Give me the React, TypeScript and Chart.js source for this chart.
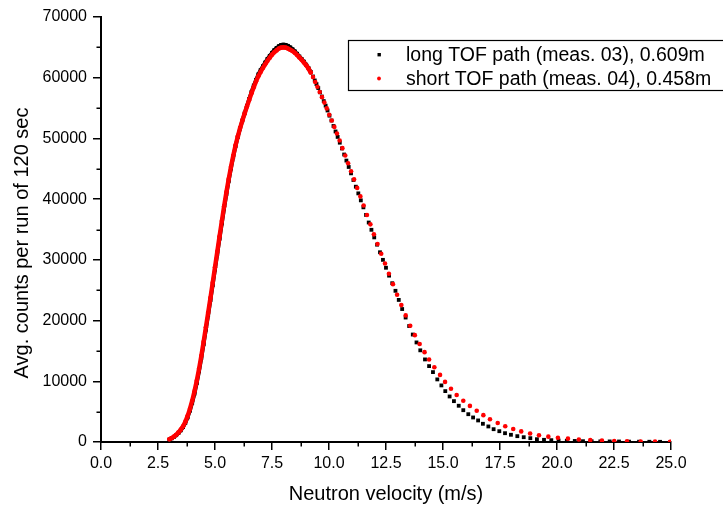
import React, { useEffect, useRef } from 'react';
import { Chart, registerables } from 'chart.js';

Chart.register(...registerables);

const LONG_LABEL = 'long TOF path (meas. 03), 0.609m';
const SHORT_LABEL = 'short TOF path (meas. 04), 0.458m';
const X_TITLE = 'Neutron velocity (m/s)';
const Y_TITLE = 'Avg. counts per run of 120 sec';

// long TOF path (black squares)
const longVelocity = [
  3.0, 3.1, 3.2, 3.3, 3.4, 3.5, 3.6, 3.7, 3.8, 3.9,
  4.0, 4.1, 4.2, 4.3, 4.4, 4.5, 4.6, 4.7, 4.8, 4.9,
  5.0, 5.1, 5.2, 5.3, 5.4, 5.5, 5.6, 5.7, 5.8, 5.9,
  6.0, 6.1, 6.2, 6.3, 6.4, 6.5, 6.6, 6.7, 6.8, 6.9,
  7.0, 7.1, 7.2, 7.3, 7.4, 7.5, 7.6, 7.7, 7.8, 7.9,
  8.0, 8.1, 8.2, 8.3, 8.4, 8.5, 8.6, 8.7, 8.8, 8.9,
  9.0, 9.1, 9.2,
  9.3, 9.375, 9.451, 9.529, 9.607, 9.687, 9.769, 9.852, 9.936, 10.021,
  10.108, 10.197, 10.287, 10.379, 10.473, 10.568, 10.665, 10.763, 10.864, 10.966,
  11.071, 11.177, 11.286, 11.396, 11.509, 11.624, 11.742, 11.861, 11.984, 12.108,
  12.236, 12.366, 12.499, 12.635, 12.774, 12.915, 13.06, 13.209, 13.361, 13.516,
  13.675, 13.838, 14.004,
  14.21, 14.39, 14.56, 14.75, 14.93, 15.1, 15.29, 15.48, 15.69, 15.89,
  16.11, 16.32, 16.54, 16.75, 16.99, 17.22, 17.47, 17.72, 17.98, 18.26,
  18.54, 18.83, 19.12, 19.43, 19.75, 20.07, 20.43, 20.78, 21.14, 21.52,
  21.9, 22.31, 22.72, 23.16, 23.6, 24.05, 24.52, 24.98,
];
const longCounts = [
  400, 600, 840, 1120, 1480, 1920, 2450, 3150, 4050, 5150,
  6450, 7950, 9700, 11650, 13800, 16100, 18500, 20900, 23350, 25850,
  28400, 30950, 33500, 36000, 38450, 40800, 43000, 45050, 46950, 48700,
  50250, 51650, 52950, 54150, 55350, 56500, 57650, 58700, 59650, 60550,
  61250, 61900, 62500, 63100, 63600, 64100, 64550, 64900, 65200, 65400,
  65450, 65400, 65250, 65000, 64700, 64350, 63950, 63500, 63100, 62650,
  62150, 61600, 60950,
  60200, 59550, 58950, 58300, 57600, 56900, 56150, 55400, 54600, 53750,
  52950, 52050, 51150, 50250, 49300, 48350, 47350, 46350, 45300, 44250,
  43150, 42050, 40950, 39800, 38650, 37400, 36150, 34950, 33700, 32500,
  31250, 30000, 28700, 27400, 26150, 24900, 23400, 21900, 20500, 19100,
  17700, 16400, 15100,
  13600, 12500, 11510, 10310, 9320, 8380, 7500, 6730, 5970, 5240,
  4580, 4040, 3550, 3000, 2560, 2110, 1780, 1450, 1190, 960,
  790, 630, 460, 360, 300, 250, 200, 170, 130, 120,
  100, 90, 80, 60, 50, 40, 30, 20,
];

// short TOF path (red dots)
const shortVelocity = [
  3.0, 3.1, 3.2, 3.3, 3.4, 3.5, 3.6, 3.7, 3.8, 3.9,
  4.0, 4.1, 4.2, 4.3, 4.4, 4.5, 4.6, 4.7, 4.8, 4.9,
  5.0, 5.1, 5.2, 5.3, 5.4, 5.5, 5.6, 5.7, 5.8, 5.9,
  6.0, 6.1, 6.2, 6.3, 6.4, 6.5, 6.6, 6.7, 6.8, 6.9,
  7.0, 7.1, 7.2, 7.3, 7.4, 7.5, 7.6, 7.7, 7.8, 7.9,
  8.0, 8.1, 8.2, 8.3, 8.4, 8.5, 8.6, 8.7, 8.8, 8.9,
  9.0, 9.1, 9.2,
  9.3, 9.395, 9.492, 9.592, 9.693, 9.797, 9.902, 10.01, 10.121, 10.234,
  10.349, 10.467, 10.588, 10.712, 10.838, 10.968, 11.1, 11.236, 11.376, 11.518,
  11.665, 11.815, 11.969, 12.128, 12.29, 12.457, 12.628, 12.805, 12.986, 13.172,
  13.364, 13.562, 13.765, 13.975, 14.191,
  14.39, 14.62, 14.87, 15.09, 15.35, 15.6, 15.89, 16.18, 16.48, 16.77,
  17.06, 17.4, 17.73, 18.08, 18.43, 18.82, 19.21, 19.62, 20.04, 20.48,
  20.96, 21.46, 21.97, 22.51, 23.07, 23.67, 24.3, 24.96,
];
const shortCounts = [
  450, 650, 900, 1200, 1580, 2050, 2600, 3350, 4300, 5450,
  6800, 8350, 10100, 12050, 14200, 16500, 18900, 21300, 23750, 26250,
  28800, 31350, 33900, 36400, 38850, 41150, 43300, 45300, 47150, 48850,
  50350, 51700, 52950, 54100, 55250, 56350, 57450, 58450, 59400, 60250,
  60950, 61600, 62200, 62800, 63300, 63800, 64200, 64500, 64800, 64950,
  65000, 64950, 64800, 64600, 64400, 64100, 63750, 63350, 62950, 62500,
  62050, 61500, 60850,
  60100, 59300, 58500, 57650, 56800, 55900, 54950, 53900, 52950, 51900,
  50800, 49650, 48400, 47200, 45900, 44600, 43250, 41850, 40450, 38950,
  37400, 35850, 34200, 32600, 31000, 29400, 27700, 26000, 24250, 22550,
  20850, 19150, 17600, 16150, 14800,
  13600, 12300, 11050, 9900, 8770, 7750, 6790, 5950, 5140, 4420,
  3750, 3120, 2600, 2150, 1750, 1400, 1100, 880, 700, 550,
  420, 310, 230, 160, 120, 90, 60, 50,
];

const X_MIN = 0;
const X_MAX = 25;
const X_STEP = 2.5;
const Y_MIN = 0;
const Y_MAX = 70000;
const Y_STEP = 10000;
const xMinorTicks = [1.25, 3.75, 6.25, 8.75, 11.25, 13.75, 16.25, 18.75, 21.25, 23.75];
const yMinorTicks = [5000, 15000, 25000, 35000, 45000, 55000, 65000];
// below this velocity the measured points are so dense they merge into a band
const DENSE_LIMIT = 9.2;

const FONT = '"Liberation Sans", Arial, Helvetica, sans-serif';
const BLACK = '#000000';
const RED = '#ff0000';

const minorTicksPlugin = {
  id: 'minorTicks',
  afterDraw(chart: any) {
    const { ctx, chartArea, scales } = chart;
    ctx.save();
    ctx.strokeStyle = '#000';
    ctx.lineWidth = 1.5;
    ctx.beginPath();
    xMinorTicks.forEach((v) => {
      const px = Math.round(scales.x.getPixelForValue(v)) + 0.25;
      ctx.moveTo(px, chartArea.bottom);
      ctx.lineTo(px, chartArea.bottom + 4.5);
    });
    yMinorTicks.forEach((v) => {
      const py = Math.round(scales.y.getPixelForValue(v)) + 0.25;
      ctx.moveTo(chartArea.left, py);
      ctx.lineTo(chartArea.left - 4.5, py);
    });
    ctx.stroke();

    // y axis title
    ctx.fillStyle = '#000';
    ctx.font = `20px ${FONT}`;
    ctx.textAlign = 'center';
    ctx.textBaseline = 'middle';
    ctx.translate(22, 243);
    ctx.rotate(-Math.PI / 2);
    ctx.fillText(Y_TITLE, 0, 0);
    ctx.restore();
  },
};

const boxLegendPlugin = {
  id: 'boxLegend',
  afterDraw(chart: any) {
    const { ctx } = chart;
    ctx.save();
    ctx.fillStyle = '#fff';
    ctx.fillRect(348.5, 40.5, 420, 50);
    ctx.strokeStyle = '#000';
    ctx.lineWidth = 1.2;
    ctx.strokeRect(348.5, 40.5, 420, 50);
    chart.data.datasets.forEach((ds: any, i: number) => {
      const y = 54.5 + i * 24;
      ctx.fillStyle = ds.pointBackgroundColor;
      if (ds.pointStyle === 'rect') {
        ctx.fillRect(377.5, y - 1.5, 3.4, 3.4);
      } else {
        ctx.beginPath();
        ctx.arc(379, y, 1.9, 0, Math.PI * 2);
        ctx.fill();
      }
      ctx.fillStyle = '#000';
      ctx.font = `19.5px ${FONT}`;
      ctx.textAlign = 'left';
      ctx.textBaseline = 'middle';
      ctx.fillText(ds.label, 406, y + 1);
    });
    ctx.restore();
  },
};

export default function App() {
  const canvasRef = useRef<HTMLCanvasElement | null>(null);

  useEffect(() => {
    if (!canvasRef.current) return;
    const longData = longVelocity.map((x, i) => ({ x, y: longCounts[i] }));
    const shortData = shortVelocity.map((x, i) => ({ x, y: shortCounts[i] }));
    const denseSegment = (color: string) => (ctx: any) =>
      ctx.p1.parsed.x <= DENSE_LIMIT + 1e-6 ? color : 'rgba(0,0,0,0)';

    const chart = new Chart(canvasRef.current, {
      type: 'scatter',
      data: {
        datasets: [
          {
            label: LONG_LABEL,
            data: longData,
            order: 2,
            showLine: true,
            borderColor: 'rgba(0,0,0,0)',
            borderWidth: 3.8,
            borderCapStyle: 'round',
            borderJoinStyle: 'round',
            segment: { borderColor: denseSegment(BLACK) },
            pointStyle: 'rect',
            pointRadius: 2.7,
            pointBackgroundColor: BLACK,
            pointBorderColor: BLACK,
            pointBorderWidth: 0,
          } as any,
          {
            label: SHORT_LABEL,
            data: shortData,
            order: 1,
            showLine: true,
            borderColor: 'rgba(0,0,0,0)',
            borderWidth: 4.4,
            borderCapStyle: 'round',
            borderJoinStyle: 'round',
            segment: { borderColor: denseSegment(RED) },
            pointStyle: 'circle',
            pointRadius: 2.3,
            pointBackgroundColor: RED,
            pointBorderColor: RED,
            pointBorderWidth: 0,
          } as any,
        ],
      },
      options: {
        animation: false,
        responsive: false,
        events: [],
        layout: { padding: { left: 0, right: 52, top: 17, bottom: 0 } },
        plugins: {
          legend: { display: false },
          tooltip: { enabled: false },
        },
        scales: {
          x: {
            type: 'linear',
            min: X_MIN,
            max: X_MAX,
            afterFit: (scale: any) => {
              scale.height = 64;
            },
            border: { display: true, color: '#000', width: 2 },
            grid: {
              drawOnChartArea: false,
              drawTicks: true,
              tickLength: 8,
              color: '#000',
              lineWidth: 1.5,
            },
            ticks: {
              stepSize: X_STEP,
              autoSkip: false,
              maxRotation: 0,
              padding: 4,
              color: '#000',
              font: { family: FONT, size: 16 },
              callback: (v: any) => Number(v).toFixed(1),
            },
            title: {
              display: true,
              text: X_TITLE,
              color: '#000',
              font: { family: FONT, size: 20 },
              padding: { top: 0, bottom: 0 },
            },
          },
          y: {
            type: 'linear',
            min: Y_MIN,
            max: Y_MAX,
            afterFit: (scale: any) => {
              scale.width = 101;
            },
            border: { display: true, color: '#000', width: 2 },
            grid: {
              drawOnChartArea: false,
              drawTicks: true,
              tickLength: 8,
              color: '#000',
              lineWidth: 1.5,
            },
            ticks: {
              stepSize: Y_STEP,
              autoSkip: false,
              padding: 6,
              color: '#000',
              font: { family: FONT, size: 16 },
              callback: (v: any) => String(v),
            },
          },
        },
      },
      plugins: [minorTicksPlugin, boxLegendPlugin],
    });

    return () => chart.destroy();
  }, []);

  return (
    <div style={{ position: 'absolute', left: 0, top: 0, width: 723, height: 506, background: '#fff' }}>
      <canvas ref={canvasRef} width={723} height={506} style={{ display: 'block' }} />
    </div>
  );
}
